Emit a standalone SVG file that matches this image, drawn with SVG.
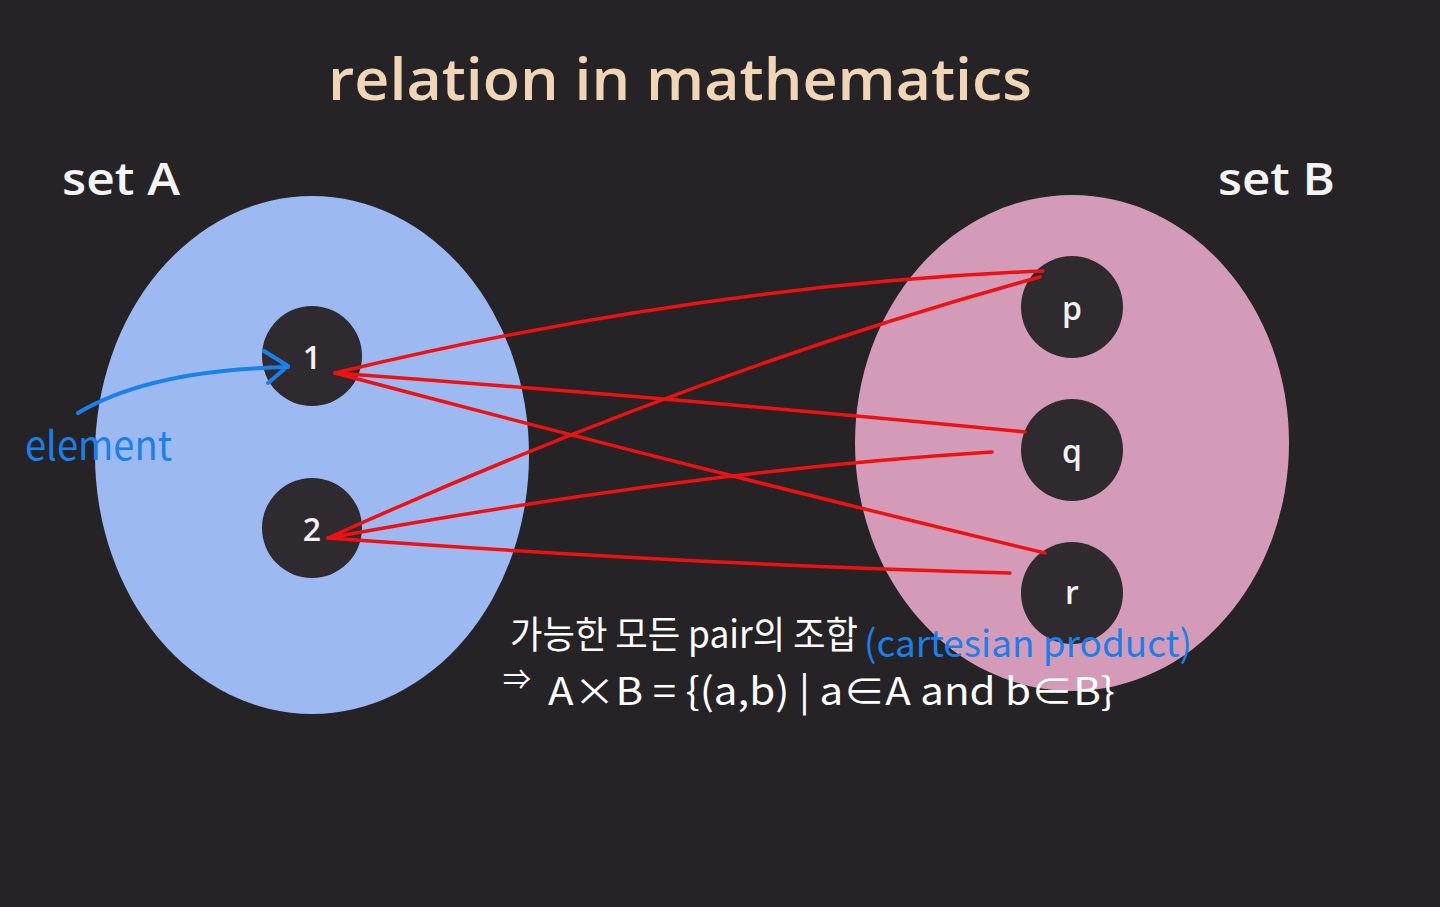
<svg xmlns="http://www.w3.org/2000/svg" width="1440" height="907" viewBox="0 0 1440 907">
<style>
.node circle{fill:#2e2a2f;}
.node text{fill:#f2f2f2;font-family:"Open Sans","Noto Sans",sans-serif;font-size:32px;font-weight:600;text-anchor:middle;}
.lbl{fill:#f4f4f4;font-family:"Open Sans","Noto Sans",sans-serif;font-size:46px;font-weight:600;}
.rel{fill:none;stroke:#ee1111;stroke-width:3.5;stroke-linecap:round;stroke-linejoin:round;}
.hand{font-family:"Noto Sans CJK KR","Noto Sans",sans-serif;}
</style>
<rect width="1440" height="907" fill="#252326"/>
<text x="328" y="100" textLength="704" lengthAdjust="spacingAndGlyphs" style="fill:#f0d6b6;font-family:'Open Sans','Noto Sans',sans-serif;font-size:58px;font-weight:600">relation in mathematics</text>
<g id="setA">
<ellipse cx="312" cy="455" rx="217" ry="259" fill="#9db9f2"/>
<text class="lbl" x="62" y="195" textLength="118" lengthAdjust="spacingAndGlyphs">set A</text>
</g>
<g id="setB">
<ellipse cx="1072" cy="443" rx="217" ry="248" fill="#d49bb9"/>
<text class="lbl" x="1218" y="195" textLength="117" lengthAdjust="spacingAndGlyphs">set B</text>
</g>
<g id="n1" class="node"><circle cx="312" cy="356" r="50"/><text x="312" y="369">1</text></g>
<g id="n2" class="node"><circle cx="312" cy="528" r="50"/><text x="312" y="541">2</text></g>
<g id="np" class="node"><circle cx="1072" cy="307" r="51"/><text x="1072" y="320">p</text></g>
<g id="nq" class="node"><circle cx="1072" cy="450" r="51"/><text x="1072" y="463">q</text></g>
<g id="nr" class="node"><circle cx="1072" cy="593" r="51"/><text x="1072" y="604">r</text></g>
<g id="connectors">
<path class="rel" d="M1043 271 Q700 285 335 373"/>
<path class="rel" d="M1040 277 Q700 370 328 538"/>
<path class="rel" d="M335 373 Q700 400 1025 432"/>
<path class="rel" d="M335 373 Q700 470 1045 553"/>
<path class="rel" d="M328 538 Q700 470 992 452"/>
<path class="rel" d="M328 538 Q700 565 1010 573"/>
<path d="M78 413 Q150 370 288 367 M264 351 L288 366 L268 383" fill="none" stroke="#1a80ea" stroke-width="4" stroke-linecap="round" stroke-linejoin="round"/>
</g>
<g id="element">
<text class="hand" x="25" y="460" textLength="147" lengthAdjust="spacingAndGlyphs" style="fill:#1a80ea;font-size:40px">element</text>
</g>
<g id="note">
<text class="hand" x="510" y="648" textLength="348" lengthAdjust="spacingAndGlyphs" style="fill:#ffffff;font-size:38px">가능한 모든 pair의 조합</text>
<text class="hand" x="864" y="657" textLength="328" lengthAdjust="spacingAndGlyphs" style="fill:#1a7fe8;font-size:37px">(cartesian product)</text>
<text class="hand" x="503" y="690" style="fill:#ffffff;font-size:28px">⇒</text>
<text class="hand" x="548" y="705" textLength="567" lengthAdjust="spacingAndGlyphs" style="fill:#ffffff;font-size:38px">A×B = {(a,b) | a∈A and b∈B}</text>
</g>
</svg>
